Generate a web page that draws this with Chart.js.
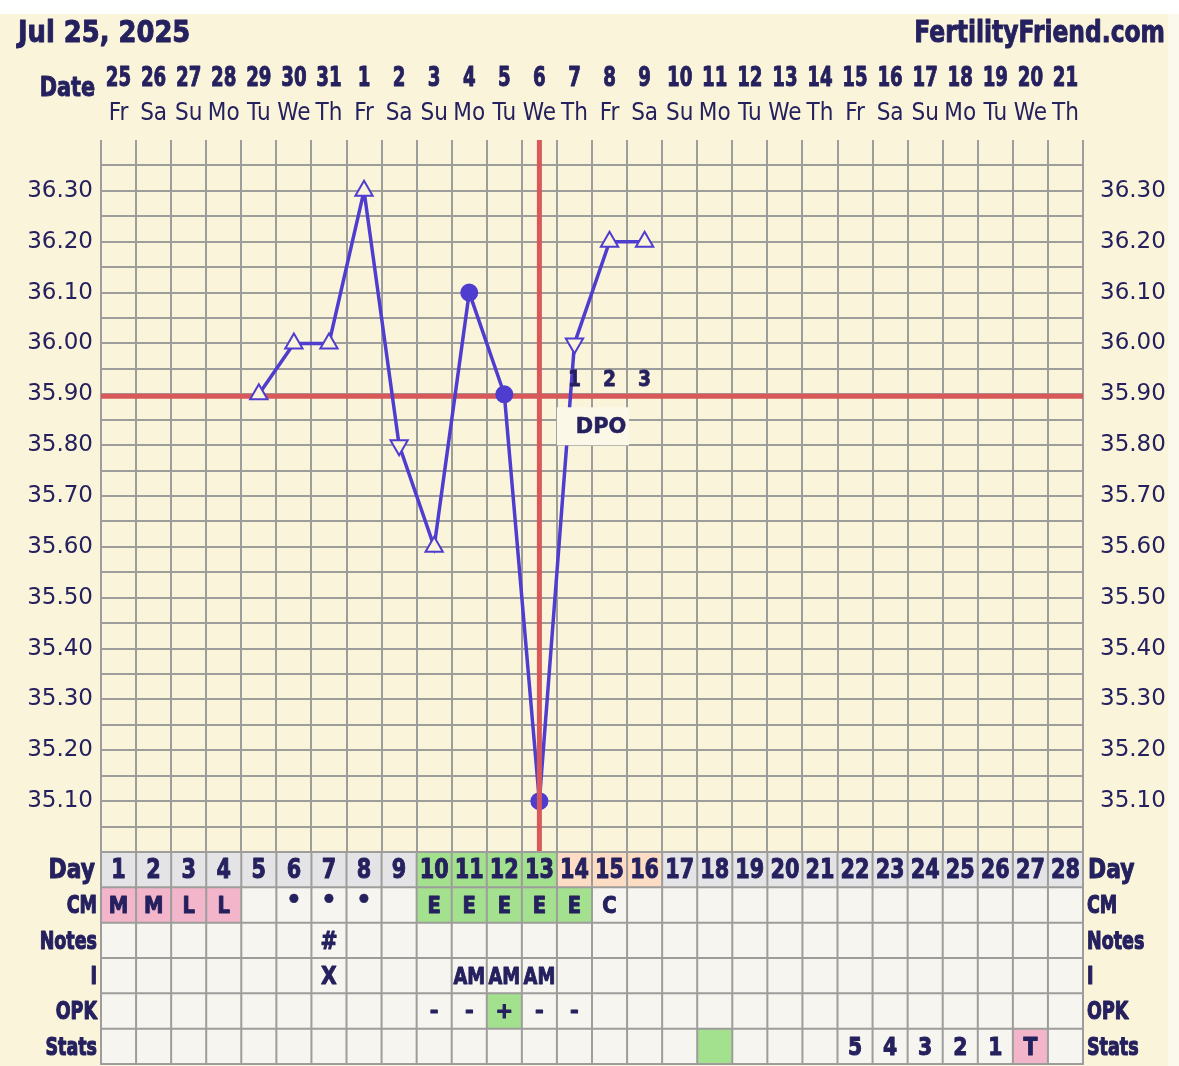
<!DOCTYPE html>
<html>
<head>
<meta charset="utf-8">
<title>Fertility chart</title>
<script src="https://cdn.jsdelivr.net/npm/chart.js@4/dist/chart.umd.min.js"></script>
<style>
  html, body { margin: 0; padding: 0; background: #ffffff; }
  canvas { display: block; }
</style>
</head>
<body>
<canvas id="chart" width="1179" height="1066"></canvas>
<script>
// ---- data ----
const cycleDays = ['1','2','3','4','5','6','7','8','9','10','11','12','13','14',
    '15','16','17','18','19','20','21','22','23','24','25','26','27','28'];
const dates = ['25','26','27','28','29','30','31','1','2','3','4','5','6','7',
    '8','9','10','11','12','13','14','15','16','17','18','19','20','21'];
const weekdays = ['Fr','Sa','Su','Mo','Tu','We','Th','Fr','Sa','Su','Mo','Tu','We','Th',
    'Fr','Sa','Su','Mo','Tu','We','Th','Fr','Sa','Su','Mo','Tu','We','Th'];
const temps = [null, null, null, null, 35.90, 36.00, 36.00, 36.30, 35.80, 35.60, 36.10, 35.90,
    35.10, 36.00, 36.20, 36.20, null, null, null, null, null, null, null, null, null, null, null, null];
// u = open triangle up, d = open triangle down, c = filled circle
const markers = ['', '', '', '', 'u', 'u', 'u', 'u', 'd', 'u', 'c', 'c',
    'c', 'd', 'u', 'u', '', '', '', '', '', '', '', '', '', '', '', ''];

const coverline = 35.90;
const ovulationDay = 13;
const dpoDays = [14, 15, 16];
const dpoLabels = ['1', '2', '3'];

const yMin = 35.00;
const yMax = 36.40;
const yStep = 0.05;

// table rows below the chart
const cmRow = ['M','M','L','L','','•','•','•','','E','E','E','E','E','C','','','','','','','','','','','','',''];
const notesRow = ['','','','','','','#','','','','','','','','','','','','','','','','','','','','',''];
const iRow = ['','','','','','','X','','','','AM','AM','AM','','','','','','','','','','','','','','',''];
const opkRow = ['','','','','','','','','','-','-','+','-','-','','','','','','','','','','','','','',''];
const statsRow = ['','','','','','','','','','','','','','','','','','','','','','5','4','3','2','1','T',''];
// cell highlights: p = pink, g = green, o = peach
const dayMarks = ['','','','','','','','','','g','g','g','g','o','o','o','','','','','','','','','','','',''];
const cmMarks = ['p','p','p','p','','','','','','g','g','g','g','g','','','','','','','','','','','','','',''];
const opkMarks = ['','','','','','','','','','','','g','','','','','','','','','','','','','','','',''];
const statsMarks = ['','','','','','','','','','','','','','','','','','g','','','','','','','','','p',''];

// ---- styles ----
const ink = '#25205e';
const lineBlue = '#4f3dcf';
const redLine = '#d9595b';
const gridGray = '#9d9d9b';
const cream = '#f9f4da';
const markFill = { p: '#f3b5c9', g: '#a4e18e', o: '#fcdcc2' };

// draw text, optionally squeezed horizontally (sx) and thickened with a stroke (heavy)
function txt(ctx, s, x, y, size, weight, align, sx, heavy) {
    ctx.save();
    ctx.font = weight + ' ' + size + 'px "DejaVu Sans"';
    ctx.fillStyle = ink;
    ctx.textAlign = align;
    ctx.textBaseline = 'middle';
    ctx.translate(x, y + 2);
    ctx.scale(sx, 1);
    ctx.fillText(s, 0, 0);
    if (heavy) {
        ctx.strokeStyle = ink;
        ctx.lineWidth = heavy;
        ctx.lineJoin = 'round';
        ctx.strokeText(s, 0, 0);
    }
    ctx.restore();
}

function tickLabel(value) {
    const c = Math.round(value * 100);
    if (c % 10 !== 0 || c <= 3500 || c >= 3640) return '';
    return (c / 100).toFixed(2);
}

const pagePlugin = {
    id: 'page',
    beforeDraw(chart) {
        const ctx = chart.ctx;
        ctx.save();
        ctx.fillStyle = '#ffffff';
        ctx.fillRect(0, 0, chart.width, chart.height);
        ctx.fillStyle = cream;
        ctx.fillRect(0, 14, 1168, chart.height - 14);
        ctx.fillStyle = '#fbf9ec';
        ctx.fillRect(1168, 14, chart.width - 1168, chart.height - 14);
        ctx.restore();
    },
    beforeDatasetsDraw(chart) {
        const ctx = chart.ctx;
        const a = chart.chartArea;
        const y = chart.scales.y.getPixelForValue(coverline) + 2;
        ctx.save();
        ctx.strokeStyle = redLine;
        ctx.lineWidth = 5;
        ctx.beginPath();
        ctx.moveTo(a.left, y);
        ctx.lineTo(a.right, y);
        ctx.stroke();
        ctx.restore();
    },
    afterDatasetsDraw(chart) {
        const ctx = chart.ctx;
        const a = chart.chartArea;
        const xs = chart.scales.x;
        const ys = chart.scales.y;
        const colW = xs.getPixelForValue(1) - xs.getPixelForValue(0);
        const ox = xs.getPixelForValue(ovulationDay - 1);
        ctx.save();
        ctx.strokeStyle = redLine;
        ctx.lineWidth = 5;
        ctx.beginPath();
        ctx.moveTo(ox, a.top);
        ctx.lineTo(ox, a.bottom);
        ctx.stroke();
        ctx.restore();

        const cy = ys.getPixelForValue(coverline) + 2;
        dpoDays.forEach((d, i) => {
            txt(ctx, dpoLabels[i], xs.getPixelForValue(d - 1), cy - 18, 22, 'bold', 'center', 0.85, 0.8);
        });
        const bx = xs.getPixelForValue(dpoDays[0] - 1) - colW / 2;
        ctx.save();
        ctx.fillStyle = '#fbf8e7';
        ctx.fillRect(bx, cy + 11, colW * 2 + 2, 38);
        ctx.restore();
        txt(ctx, 'DPO', bx + colW + 9, cy + 29, 22, 'bold', 'center', 0.95, 0.6);
    },
    afterDraw(chart) {
        const ctx = chart.ctx;
        const a = chart.chartArea;
        const xs = chart.scales.x;
        const colW = xs.getPixelForValue(1) - xs.getPixelForValue(0);
        const rowH = 35.33;
        const top = a.bottom;

        // header
        txt(ctx, 'Jul 25, 2025', 18, 32, 30, 'bold', 'left', 0.86, 1);
        txt(ctx, 'FertilityFriend.com', 1165, 32, 30, 'bold', 'right', 0.78, 1);
        txt(ctx, 'Date', 95, 87, 26, 'bold', 'right', 0.8, 1);
        cycleDays.forEach((d, i) => {
            const x = xs.getPixelForValue(i);
            txt(ctx, dates[i], x, 77, 26, 'bold', 'center', 0.7, 1);
            txt(ctx, weekdays[i], x, 112, 24, 'normal', 'center', 0.9, 0);
        });

        const rows = [
            { label: 'Day', values: cycleDays, marks: dayMarks, base: '#e4e4e6' },
            { label: 'CM', values: cmRow, marks: cmMarks, base: '#f6f5ef' },
            { label: 'Notes', values: notesRow, marks: null, base: '#f6f5ef' },
            { label: 'I', values: iRow, marks: null, base: '#f6f5ef' },
            { label: 'OPK', values: opkRow, marks: opkMarks, base: '#f6f5ef' },
            { label: 'Stats', values: statsRow, marks: statsMarks, base: '#f6f5ef' }
        ];

        rows.forEach((row, r) => {
            const y0 = top + r * rowH;
            const yc = y0 + rowH / 2;
            cycleDays.forEach((d, i) => {
                const x0 = xs.getPixelForValue(i) - colW / 2;
                const m = row.marks ? row.marks[i] : '';
                ctx.fillStyle = m ? markFill[m] : row.base;
                ctx.fillRect(x0, y0, colW, rowH);
            });
            if (row.label === 'Day') {
                txt(ctx, 'Day', 95, yc, 26, 'bold', 'right', 0.84, 1);
                txt(ctx, 'Day', 1088, yc, 26, 'bold', 'left', 0.84, 1);
            } else {
                txt(ctx, row.label, 97, yc, 25, 'bold', 'right', 0.7, 1.2);
                txt(ctx, row.label, 1087, yc, 25, 'bold', 'left', 0.7, 1.2);
            }
            row.values.forEach((v, i) => {
                if (!v) return;
                const x = xs.getPixelForValue(i);
                if (row.label === 'Day') {
                    txt(ctx, v, x, yc, 26, 'bold', 'center', 0.8, 1);
                } else if (v === '•') {
                    txt(ctx, v, x, yc - 5, 24, 'bold', 'center', 1, 0.5);
                } else if (v === 'AM') {
                    txt(ctx, v, x, yc, 23, 'bold', 'center', 0.78, 1);
                } else if (row.label === 'CM') {
                    txt(ctx, v, x, yc, 23, 'bold', 'center', 0.85, 1);
                } else if (row.label === 'OPK') {
                    txt(ctx, v, x, yc, 21, 'bold', 'center', 1, 1);
                } else {
                    txt(ctx, v, x, yc, 24, 'bold', 'center', 0.85, 1);
                }
            });
        });

        // table grid
        ctx.save();
        ctx.strokeStyle = gridGray;
        ctx.lineWidth = 2;
        ctx.beginPath();
        for (let i = 0; i <= cycleDays.length; i++) {
            const x = xs.getPixelForValue(0) - colW / 2 + i * colW;
            ctx.moveTo(x, top);
            ctx.lineTo(x, top + rowH * rows.length);
        }
        for (let r = 0; r <= rows.length; r++) {
            ctx.moveTo(a.left - 1, top + r * rowH);
            ctx.lineTo(a.right + 1, top + r * rowH);
        }
        ctx.stroke();
        ctx.restore();
    }
};

const pointStyles = markers.map(m => m === 'c' ? 'circle' : 'triangle');
const pointRotations = markers.map(m => m === 'd' ? 180 : 0);
const pointRadii = markers.map(m => m === 'c' ? 8 : (m ? 10 : 0));
const pointFills = markers.map(m => m === 'c' ? lineBlue : cream);

const tickFont = { family: '"DejaVu Sans"', size: 23 };

new Chart(document.getElementById('chart').getContext('2d'), {
    type: 'line',
    data: {
        labels: cycleDays,
        datasets: [{
            data: temps,
            borderColor: lineBlue,
            borderWidth: 3.5,
            tension: 0,
            spanGaps: false,
            pointStyle: pointStyles,
            pointRotation: pointRotations,
            pointRadius: pointRadii,
            pointBackgroundColor: pointFills,
            pointBorderColor: lineBlue,
            pointBorderWidth: 2,
            clip: false
        }]
    },
    options: {
        responsive: false,
        animation: false,
        devicePixelRatio: 1,
        layout: { padding: { top: 140, bottom: 214, left: 0, right: 0 } },
        plugins: { legend: { display: false }, tooltip: { enabled: false } },
        scales: {
            x: {
                type: 'category',
                offset: true,
                grid: { offset: true, color: gridGray, lineWidth: 2, drawTicks: false },
                border: { display: false },
                ticks: { display: false },
                afterFit: s => { s.height = 0; }
            },
            y: {
                position: 'left',
                min: yMin,
                max: yMax,
                ticks: { stepSize: yStep, autoSkip: false, callback: tickLabel, font: tickFont, color: ink, padding: 8 },
                grid: {
                    color: c => (c.tick && c.tick.value > yMax - 0.01) ? 'rgba(0,0,0,0)' : gridGray,
                    lineWidth: 2,
                    drawTicks: false
                },
                border: { display: false },
                afterFit: s => { s.width = 101; }
            },
            y2: {
                position: 'right',
                min: yMin,
                max: yMax,
                ticks: { stepSize: yStep, autoSkip: false, callback: tickLabel, font: tickFont, color: ink, padding: 9 },
                grid: { display: false },
                border: { display: false },
                afterFit: s => { s.width = 96; }
            }
        }
    },
    plugins: [pagePlugin]
});
</script>
</body>
</html>
